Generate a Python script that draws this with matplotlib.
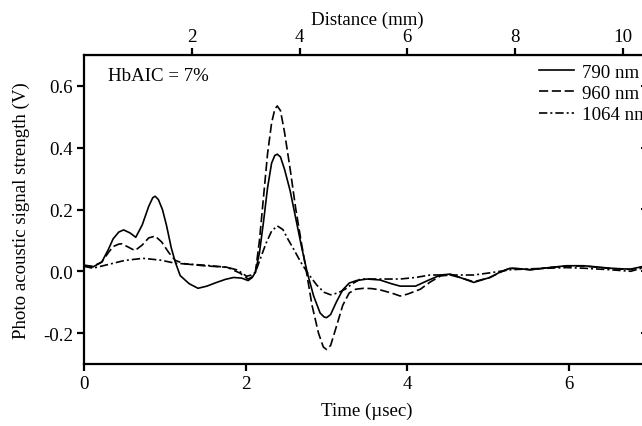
import matplotlib
matplotlib.use("Agg")
import matplotlib.pyplot as plt

plt.rcParams['font.family'] = ['Liberation Serif', 'DejaVu Serif']
plt.rcParams['font.size'] = 13.6

# time in microseconds, signal in volts
t_790 = [0.0, 0.11, 0.22, 0.30, 0.36, 0.43, 0.49, 0.57, 0.64, 0.72, 0.80, 0.85, 0.88, 0.92, 0.97,
         1.02, 1.08, 1.13, 1.19, 1.30, 1.41, 1.52, 1.64, 1.75, 1.85, 1.95, 2.03, 2.08, 2.12,
         2.17, 2.22, 2.27, 2.32, 2.36, 2.39, 2.43, 2.48, 2.55, 2.62, 2.69, 2.76, 2.84, 2.92,
         2.97, 3.00, 3.05, 3.12, 3.20, 3.28, 3.37, 3.50, 3.66, 3.80, 3.91, 4.10, 4.25, 4.41,
         4.53, 4.65, 4.82, 5.02, 5.15, 5.27, 5.40, 5.52, 5.75, 5.97, 6.18, 6.35, 6.51, 6.65,
         6.76, 6.90, 7.0]
v_790 = [0.018, 0.014, 0.03, 0.07, 0.105, 0.127, 0.134, 0.124, 0.11, 0.15, 0.21, 0.238, 0.243, 0.232, 0.2,
         0.149, 0.075, 0.029, -0.014, -0.04, -0.055, -0.048, -0.036, -0.026, -0.02, -0.022, -0.03, -0.02, -0.003,
         0.06, 0.16, 0.27, 0.35, 0.375, 0.379, 0.37, 0.33, 0.26, 0.17, 0.08, -0.003, -0.08, -0.135,
         -0.148, -0.15, -0.14, -0.1, -0.06, -0.038, -0.03, -0.025, -0.028, -0.04, -0.048, -0.048, -0.03, -0.012,
         -0.009, -0.02, -0.036, -0.02, -0.002, 0.01, 0.008, 0.005, 0.012, 0.018, 0.018, 0.014, 0.01, 0.008,
         0.007, 0.015, 0.014]

t_960 = [0.0, 0.11, 0.22, 0.30, 0.36, 0.43, 0.47, 0.55, 0.63, 0.72, 0.80, 0.88, 0.96, 1.05, 1.13,
         1.25, 1.48, 1.77, 1.93, 2.03, 2.08, 2.12, 2.17, 2.22, 2.27, 2.32, 2.36, 2.39, 2.43,
         2.48, 2.55, 2.62, 2.69, 2.75, 2.82, 2.90, 2.96, 3.00, 3.05, 3.12, 3.20, 3.28, 3.36,
         3.46, 3.56, 3.66, 3.80, 3.91, 4.00, 4.16, 4.28, 4.41, 4.53, 4.65, 4.82, 5.02, 5.15,
         5.27, 5.40, 5.52, 5.75, 5.97, 6.18, 6.35, 6.51, 6.65, 6.76, 6.90, 7.0]
v_960 = [0.02, 0.016, 0.03, 0.06, 0.08, 0.088, 0.089, 0.078, 0.067, 0.085, 0.108, 0.114, 0.095, 0.06, 0.035,
         0.024, 0.018, 0.013, -0.006, -0.025, -0.018, -0.003, 0.1, 0.24, 0.38, 0.48, 0.525, 0.535, 0.52,
         0.45, 0.33, 0.2, 0.09, 0.0, -0.11, -0.2, -0.245, -0.253, -0.24, -0.18, -0.11, -0.07, -0.058,
         -0.055, -0.056, -0.06, -0.07, -0.08, -0.074, -0.058, -0.035, -0.015, -0.012, -0.02, -0.034, -0.02, -0.003,
         0.01, 0.008, 0.005, 0.012, 0.017, 0.017, 0.013, 0.009, 0.007, 0.006, 0.013, 0.012]

t_1064 = [0.0, 0.11, 0.30, 0.50, 0.73, 0.95, 1.13, 1.48, 1.77, 1.90, 2.01, 2.07, 2.12, 2.18,
          2.25, 2.32, 2.39, 2.46, 2.52, 2.59, 2.68, 2.76, 2.88, 2.97, 3.05, 3.14, 3.23, 3.32,
          3.42, 3.66, 3.91, 4.10, 4.28, 4.53, 4.82, 5.02, 5.27, 5.52, 5.97, 6.18, 6.51, 6.76,
          6.90, 7.0]
v_1064 = [0.016, 0.01, 0.022, 0.035, 0.042, 0.036, 0.026, 0.02, 0.013, 0.004, -0.016, -0.012, -0.003, 0.04,
          0.09, 0.13, 0.147, 0.135, 0.105, 0.073, 0.03, -0.003, -0.045, -0.068, -0.076, -0.07, -0.058, -0.04,
          -0.025, -0.025, -0.025, -0.02, -0.012, -0.012, -0.012, -0.005, 0.005, 0.008, 0.012, 0.01, 0.005, 0.0,
          0.01, 0.008]

series = [
    (t_790, v_790, '790 nm', '-'),
    (t_960, v_960, '960 nm', (0, (5.5, 2.2))),
    (t_1064, v_1064, '1064 nm', (0, (5, 1.8, 1.2, 1.8))),
]

y_ticks = [-0.2, 0.0, 0.2, 0.4, 0.6]
y_labels = ['-0.2', '0.0', '0.2', '0.4', '0.6']
t_ticks = [0, 2, 4, 6]
d_ticks = [2, 4, 6, 8, 10]

fig = plt.figure(figsize=(6.42, 4.27), dpi=100)
# axes run slightly past the right edge of the canvas (as in the cropped original)
ax = fig.add_axes([84 / 642, 62 / 427, 566 / 642, 309 / 427])

for t, v, lab, ls in series:
    ax.plot(t, v, color='black', lw=1.2, linestyle=ls, label=lab)

ax.set_xlim(0, 7)
ax.set_ylim(-0.3, 0.7)
ax.set_xticks(t_ticks)
ax.set_yticks(y_ticks)
ax.set_yticklabels(y_labels)
ax.set_xlabel("Time (\u00b5sec)", labelpad=7)
ax.set_ylabel("Photo acoustic signal strength (V)", labelpad=9)

for sp in ax.spines.values():
    sp.set_linewidth(1.6)
ax.tick_params(direction='out', length=5, width=1.6, pad=3)

# distance axis on top (1.5 mm per microsecond)
top = ax.secondary_xaxis('top', functions=(lambda x: 1.5 * x, lambda d: d / 1.5))
top.set_xticks(d_ticks)
top.set_xlabel("Distance (mm)", labelpad=3)
top.tick_params(direction='out', length=5, width=1.6, pad=2)

right = ax.secondary_yaxis('right')
right.set_yticks(y_ticks)
right.tick_params(direction='in', length=6.5, width=1.4, labelright=False)

ax.text(0.042, 0.935, "HbAIC = 7%", transform=ax.transAxes, va='center', ha='left')

# legend runs off the right edge, as in the cropped original
ax.legend(loc='upper left', bbox_to_anchor=(0.804, 0.972), frameon=False,
          handlelength=1.85, handletextpad=0.42, labelspacing=0.21,
          borderpad=0, borderaxespad=0)

fig.savefig("out.png", dpi=100)
